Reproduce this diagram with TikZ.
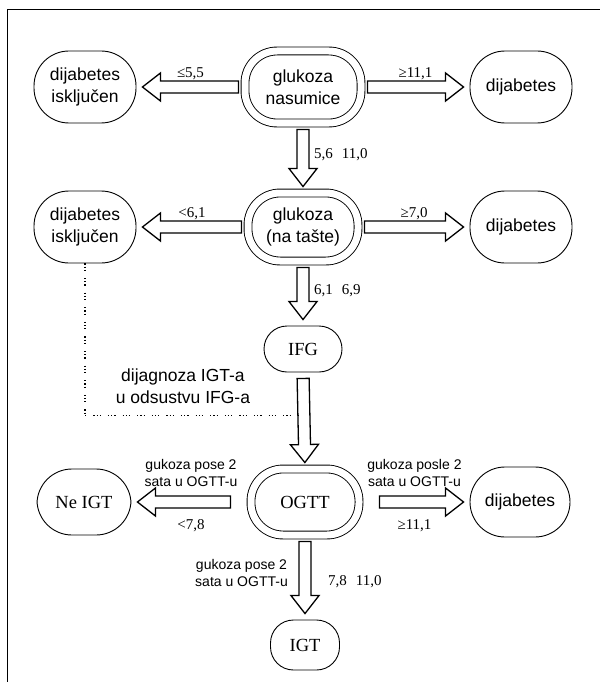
\documentclass[tikz,border=0pt]{standalone}
\usepackage{fontspec}
\setmainfont{Liberation Sans}
\newfontfamily\numfont{Liberation Serif}
\usepackage{tikz}
\usetikzlibrary{calc, positioning}
\tikzstyle{outcome} = [rectangle, rounded corners=35pt, minimum width=102pt, minimum height=72pt, align=center, draw=black, line width=0.9pt, font=\fontsize{17.5}{22}\selectfont]
\tikzstyle{test} = [rectangle, rounded corners=32pt, minimum width=110pt, minimum height=68pt, align=center, draw=black, line width=0.9pt, double, double distance=7pt, font=\fontsize{17.5}{22}\selectfont]
\tikzstyle{state} = [rectangle, rounded corners=23pt, minimum width=72pt, minimum height=48pt, draw=black, line width=0.9pt, font=\numfont\fontsize{18.5}{22}\selectfont]
\tikzstyle{num} = [font=\numfont\fontsize{15}{18}\selectfont, inner sep=1pt]
\tikzstyle{note} = [font=\fontsize{14}{17}\selectfont, align=center, inner sep=1pt]
\tikzstyle{fat} = [line width=1.3pt, to path={let \p1=(\tikztostart), \p2=(\tikztotarget), \n1={atan2(\y2-(\y1),\x2-(\x1))} in
	($(\p1)+(\n1:6pt)+(\n1+90:6pt)$) -- ($(\p2)+(\n1:-24pt)+(\n1+90:6pt)$) -- ($(\p2)+(\n1:-24pt)+(\n1+90:14pt)$) -- ($(\p2)+(\n1:-6pt)$) -- ($(\p2)+(\n1:-24pt)+(\n1-90:14pt)$) -- ($(\p2)+(\n1:-24pt)+(\n1-90:6pt)$) -- ($(\p1)+(\n1:6pt)+(\n1-90:6pt)$) -- cycle}]
\tikzstyle{dotline} = [line width=1.2pt, dash pattern=on 1.2pt off 2pt on 1.2pt off 2pt on 1.2pt off 7pt]

\begin{document}
\begin{tikzpicture}[x=1pt, y=1pt, node distance=140pt]
	\useasboundingbox (0,0) rectangle (600,-682);
	\draw [line width=1pt] (7,-682) -- (7,-10) -- (600,-10);
	
	\node (gn) [test, minimum width=116pt, minimum height=72pt] at (303,-87) {glukoza\\nasumice};
	\node (dn1) [outcome, left of=gn, xshift=-78pt] {dijabetes\\isključen};
	\node (dd1) [outcome, right of=gn, xshift=78pt] {dijabetes};
	\node (gt) [test, below of=gn] {glukoza\\(na tašte)};
	\node (dn2) [outcome, left of=gt, xshift=-78pt] {dijabetes\\isključen};
	\node (dd2) [outcome, right of=gt, xshift=78pt] {dijabetes};
	\node (ifg) [state, below of=gt, yshift=18pt, minimum width=78pt, minimum height=46pt] {IFG};
	\node (ogtt) [test, below of=ifg, yshift=-13pt, xshift=2pt, minimum width=108pt, minimum height=66pt, font=\numfont\fontsize{18.5}{22}\selectfont] {OGTT};
	\node (neigt) [outcome, left of=ogtt, xshift=-81pt, minimum width=94pt, minimum height=66pt, font=\numfont\fontsize{18.5}{22}\selectfont] {Ne IGT};
	\node (dd3) [outcome, right of=ogtt, xshift=75pt, minimum width=100pt, minimum height=70pt] {dijabetes};
	\node (igt) [state, below of=ogtt, yshift=-3pt, minimum width=69pt, minimum height=50pt] {IGT};
	\coordinate (join) at ($(ifg.south)!0.45!(ogtt.north)+(-6pt,0)$);
	
	\draw [dotline] (dn2.south) |- node[pos=0.73, above=8pt, align=center, font=\fontsize{17.5}{22}\selectfont] {dijagnoza IGT-a\\u odsustvu IFG-a} (join);
	
	\draw [fat] (gn.west) to (dn1.east);
	\draw [fat] (gn.east) to (dd1.west);
	\draw [fat] (gn.south) to (gt.north);
	\draw [fat] (gt.west) to (dn2.east);
	\draw [fat] (gt.east) to (dd2.west);
	\draw [fat] (gt.south) to (ifg.north);
	\draw [fat] (ifg.south) to (ogtt.north);
	\draw [fat] ([xshift=-14pt]ogtt.west) to (neigt.east);
	\draw [fat] ([xshift=14pt]ogtt.east) to (dd3.west);
	\draw [fat] (ogtt.south) to (igt.north);
	
	\path (gn.west) -- node[num, above=6pt] {≤5,5} (dn1.east);
	\path (gn.east) -- node[num, above=6pt] {≥11,1} (dd1.west);
	\path (gn.south) -- node[num, right=10pt, pos=0.45] {5,6\hspace{0.6em}11,0} (gt.north);
	\path (gt.west) -- node[num, above=6pt] {<6,1} (dn2.east);
	\path (gt.east) -- node[num, above=6pt] {≥7,0} (dd2.west);
	\path (gt.south) -- node[num, right=10pt, pos=0.45] {6,1\hspace{0.6em}6,9} (ifg.north);
	\path (ogtt.west) -- node[note, above=14pt] {gukoza pose 2\\sata u OGTT-u} node[num, below=16pt] {<7,8} (neigt.east);
	\path (ogtt.east) -- node[note, above=14pt] {gukoza posle 2\\sata u OGTT-u} node[num, below=16pt] {≥11,1} (dd3.west);
	\path (ogtt.south) -- node[num, right=22pt, pos=0.55] {7,8\hspace{0.6em}11,0} node[note, left=16pt, pos=0.45] {gukoza pose 2\\sata u OGTT-u} (igt.north);
	
\end{tikzpicture}
\end{document}
